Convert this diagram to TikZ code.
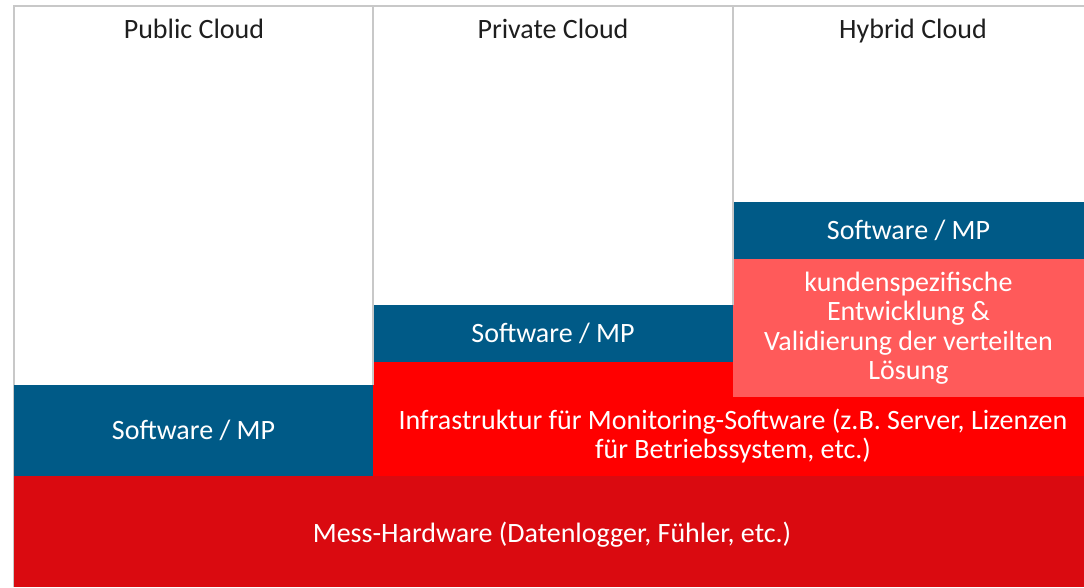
\documentclass[tikz,border=0pt]{standalone}
\usepackage{fontspec}
\setmainfont{Carlito}
\usetikzlibrary{positioning}
\definecolor{swblue}{HTML}{005A87}
\definecolor{infrared}{HTML}{FF0000}
\definecolor{devred}{HTML}{FF5A5A}
\definecolor{hwred}{HTML}{DA0A10}
\definecolor{framegray}{HTML}{C8C8C8}
\definecolor{headgray}{HTML}{1E1E1E}

\begin{document}
\begin{tikzpicture}[
  x=1pt, y=-1pt,
  block/.style={inner sep=0pt, outer sep=0pt, align=center, text=white,
                font=\fontsize{28}{29.5}\selectfont},
  swblock/.style={block, fill=swblue},
  head/.style={anchor=base, font=\fontsize{28}{29.5}\selectfont, text=headgray},
  gridline/.style={draw=framegray, line width=2pt}
]
  \useasboundingbox (0,0) rectangle (1084,587);

  \coordinate (corner) at (14,6);
  \coordinate (leftfoot) at (14,587);
  \coordinate (rightend) at (1084,6);
  \coordinate (split1) at (373,6);
  \coordinate (split2) at (733,6);
  \draw[gridline] (leftfoot) -- (corner) -- (rightend);

  \node[block, fill=hwred, anchor=north west, minimum width=1070pt, minimum height=111pt] (hw) at (14,476) {};
  \node[swblock, above right=0pt of hw.north west, minimum width=359pt, minimum height=91pt] (pubsw) {Software / MP};
  \node[block, fill=infrared, above left=0pt of hw.north east, minimum width=711pt, minimum height=114pt] (infra) {};
  \node[swblock, above right=0pt of infra.north west, minimum width=360pt, minimum height=57pt] (privsw) {Software / MP};
  \node[swblock, anchor=north west, minimum width=351pt, minimum height=57pt] (hybsw) at (733,202) {Software / MP};
  \node[block, fill=devred, below=0pt of hybsw, minimum width=351pt, minimum height=138pt] (custdev) {kundenspezifische\\Entwicklung \&\\Validierung der verteilten\\Lösung};
  \node[block] (infratext) at (733,436) {Infrastruktur für Monitoring-Software (z.B. Server, Lizenzen\\für Betriebssystem, etc.)};
  \node[block] (hwtext) at (552,535) {Mess-Hardware (Datenlogger, Fühler, etc.)};

  \draw[gridline] (split1) -- (pubsw.north east);
  \draw[gridline] (split2) -- (privsw.north east);

  \node[head] (pubhead) at (194,38) {Public Cloud};
  \node[head] (privhead) at (553,38) {Private Cloud};
  \node[head] (hybhead) at (913,38) {Hybrid Cloud};
\end{tikzpicture}
\end{document}
